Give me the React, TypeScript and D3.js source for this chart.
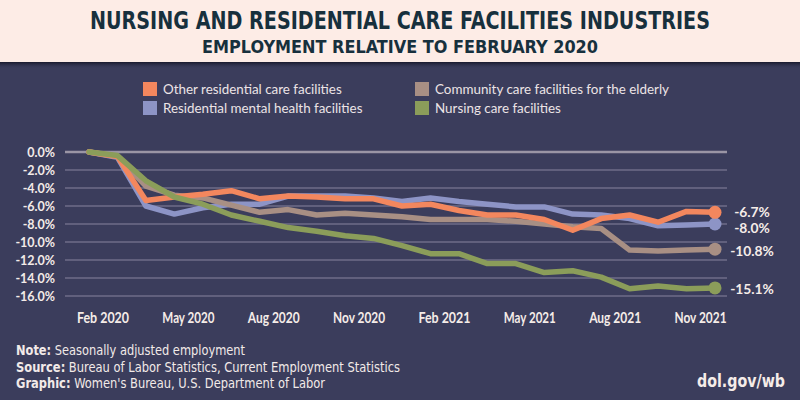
import React from "react";
import * as d3 from "d3";

const months = [
  "Feb 2020","Mar 2020","Apr 2020","May 2020","Jun 2020","Jul 2020","Aug 2020","Sep 2020","Oct 2020","Nov 2020","Dec 2020",
  "Jan 2021","Feb 2021","Mar 2021","Apr 2021","May 2021","Jun 2021","Jul 2021","Aug 2021","Sep 2021","Oct 2021","Nov 2021","Dec 2021",
];
const tickLabels = ["Feb 2020","May 2020","Aug 2020","Nov 2020","Feb 2021","May 2021","Aug 2021","Nov 2021"];
const yTicks = [0, -2, -4, -6, -8, -10, -12, -14, -16];

const otherResidential = [0.0,-0.5,-5.4,-5.0,-4.7,-4.3,-5.2,-4.9,-5.0,-5.2,-5.2,-6.0,-5.8,-6.5,-7.0,-7.0,-7.5,-8.7,-7.4,-7.0,-7.8,-6.6,-6.7];
const communityElderly = [0.0,-0.5,-3.8,-4.8,-5.1,-5.9,-6.7,-6.4,-7.0,-6.8,-7.0,-7.2,-7.5,-7.5,-7.5,-7.7,-8.0,-8.3,-8.5,-10.9,-11.0,-10.9,-10.8];
const mentalHealth = [0.0,-0.6,-6.0,-6.9,-6.2,-5.8,-5.8,-4.9,-4.9,-4.9,-5.1,-5.5,-5.1,-5.5,-5.8,-6.1,-6.1,-6.9,-7.0,-7.4,-8.2,-8.1,-8.0];
const nursingCare = [0.0,-0.4,-3.2,-5.0,-5.8,-7.0,-7.7,-8.4,-8.8,-9.3,-9.6,-10.4,-11.3,-11.3,-12.4,-12.4,-13.4,-13.2,-13.9,-15.2,-14.9,-15.2,-15.1];

const seriesNames = [
  "Other residential care facilities",
  "Community care facilities for the elderly",
  "Residential mental health facilities",
  "Nursing care facilities",
];
const endLabels = ["-6.7%", "-10.8%", "-8.0%", "-15.1%"];

const colors = ["#f3875e", "#a88f84", "#8d94c6", "#8b9d5a"];

const condensed = "'Liberation Sans Narrow', 'DejaVu Sans Condensed', 'Roboto', sans-serif";

export default function App() {
  const W = 800, H = 400;
  const x = d3.scaleLinear().domain([0, months.length - 1]).range([89, 715]);
  const y = d3.scaleLinear().domain([0, -16]).range([152, 296]);
  const line = d3.line<number>().x((_, i) => x(i)).y((v) => y(v));

  const series = [
    { name: seriesNames[0], data: otherResidential, color: colors[0], label: endLabels[0], dy: -0.8 },
    { name: seriesNames[1], data: communityElderly, color: colors[1], label: endLabels[1], dy: 1.5 },
    { name: seriesNames[2], data: mentalHealth, color: colors[2], label: endLabels[2], dy: 3.5 },
    { name: seriesNames[3], data: nursingCare, color: colors[3], label: endLabels[3], dy: 1.5 },
  ];
  const drawOrder = [2, 1, 0, 3];
  const legendPos = [
    { x: 143, y: 82 },
    { x: 415, y: 82 },
    { x: 143, y: 101 },
    { x: 415, y: 101 },
  ];
  const last = months.length - 1;
  const footer = [
    { b: "Note:", t: " Seasonally adjusted employment", y: 355, len: 229 },
    { b: "Source:", t: " Bureau of Labor Statistics, Current Employment Statistics", y: 372, len: 384 },
    { b: "Graphic:", t: " Women's Bureau, U.S. Department of Labor", y: 388, len: 309 },
  ];

  return (
    <svg width={W} height={H} style={{ display: "block", position: "absolute", left: 0, top: 0 }}>
      <defs>
        <linearGradient id="shadow" x1="0" y1="0" x2="0" y2="1">
          <stop offset="0%" stopColor="#151628" stopOpacity={0.9} />
          <stop offset="100%" stopColor="#3b3d5c" stopOpacity={0} />
        </linearGradient>
      </defs>
      <rect x={0} y={0} width={W} height={H} fill="#3b3d5c" />
      <rect x={0} y={0} width={W} height={62} fill="#fdece6" />
      <rect x={0} y={62} width={W} height={7} fill="url(#shadow)" />
      <text x={400} y={29} textAnchor="middle" fontFamily={condensed} fontWeight="bold" fontSize={24} fill="#17303d" textLength={620} lengthAdjust="spacingAndGlyphs">
        NURSING AND RESIDENTIAL CARE FACILITIES INDUSTRIES
      </text>
      <text x={400} y={53} textAnchor="middle" fontFamily={condensed} fontWeight="bold" fontSize={18} fill="#17303d" textLength={396} lengthAdjust="spacingAndGlyphs">
        EMPLOYMENT RELATIVE TO FEBRUARY 2020
      </text>

      {series.map((s, i) => (
        <g key={s.name}>
          <rect x={legendPos[i].x} y={legendPos[i].y} width={14} height={14} fill={s.color} />
          <text x={legendPos[i].x + 20} y={legendPos[i].y + 11.5} fontFamily="Lato, 'Open Sans', sans-serif" fontSize={13.4} fill="#ece4e6">
            {s.name}
          </text>
        </g>
      ))}

      {yTicks.map((t) => (
        <g key={t}>
          <line x1={65} x2={727} y1={y(t)} y2={y(t)} stroke={t === 0 ? "#9a95a5" : "#6f6d88"} strokeWidth={t === 0 ? 2.5 : 1.5} />
          <text x={55} y={y(t) + 4.5} textAnchor="end" fontFamily="Lato, sans-serif" fontWeight="bold" fontSize={12.5} fill="#f3ebe8">
            {t.toFixed(1) + "%"}
          </text>
        </g>
      ))}

      {tickLabels.map((lab) => {
        const i = months.indexOf(lab);
        return (
          <text key={lab} x={x(i) + 14} y={323} textAnchor="middle" fontFamily="Lato, sans-serif" fontWeight="bold" fontSize={14.5} fill="#f5ece8" textLength={52} lengthAdjust="spacingAndGlyphs">
            {lab}
          </text>
        );
      })}

      {drawOrder.map((k) => {
        const s = series[k];
        return (
          <g key={s.name}>
            <path d={line(s.data) || ""} fill="none" stroke={s.color} strokeWidth={5.5} strokeLinejoin="round" strokeLinecap="round" />
            <circle cx={x(last)} cy={y(s.data[last])} r={6.5} fill={s.color} />
          </g>
        );
      })}

      {series.map((s) => (
        <text key={s.label} x={752} y={y(s.data[last]) + s.dy + 5} textAnchor="middle" fontFamily="Lato, sans-serif" fontWeight="bold" fontSize={13.8} fill="#f5ece8">
          {s.label}
        </text>
      ))}

      <g fontFamily={condensed} fontSize={13.5} fill="#f2eae8">
        {footer.map((f) => (
          <text key={f.b} x={16} y={f.y} textLength={f.len} lengthAdjust="spacingAndGlyphs">
            <tspan fontWeight="bold">{f.b}</tspan>{f.t}
          </text>
        ))}
      </g>
      <text x={785} y={387} textAnchor="end" fontFamily={condensed} fontWeight="bold" fontSize={18} fill="#f5ece8" textLength={88} lengthAdjust="spacingAndGlyphs">
        dol.gov/wb
      </text>
    </svg>
  );
}
